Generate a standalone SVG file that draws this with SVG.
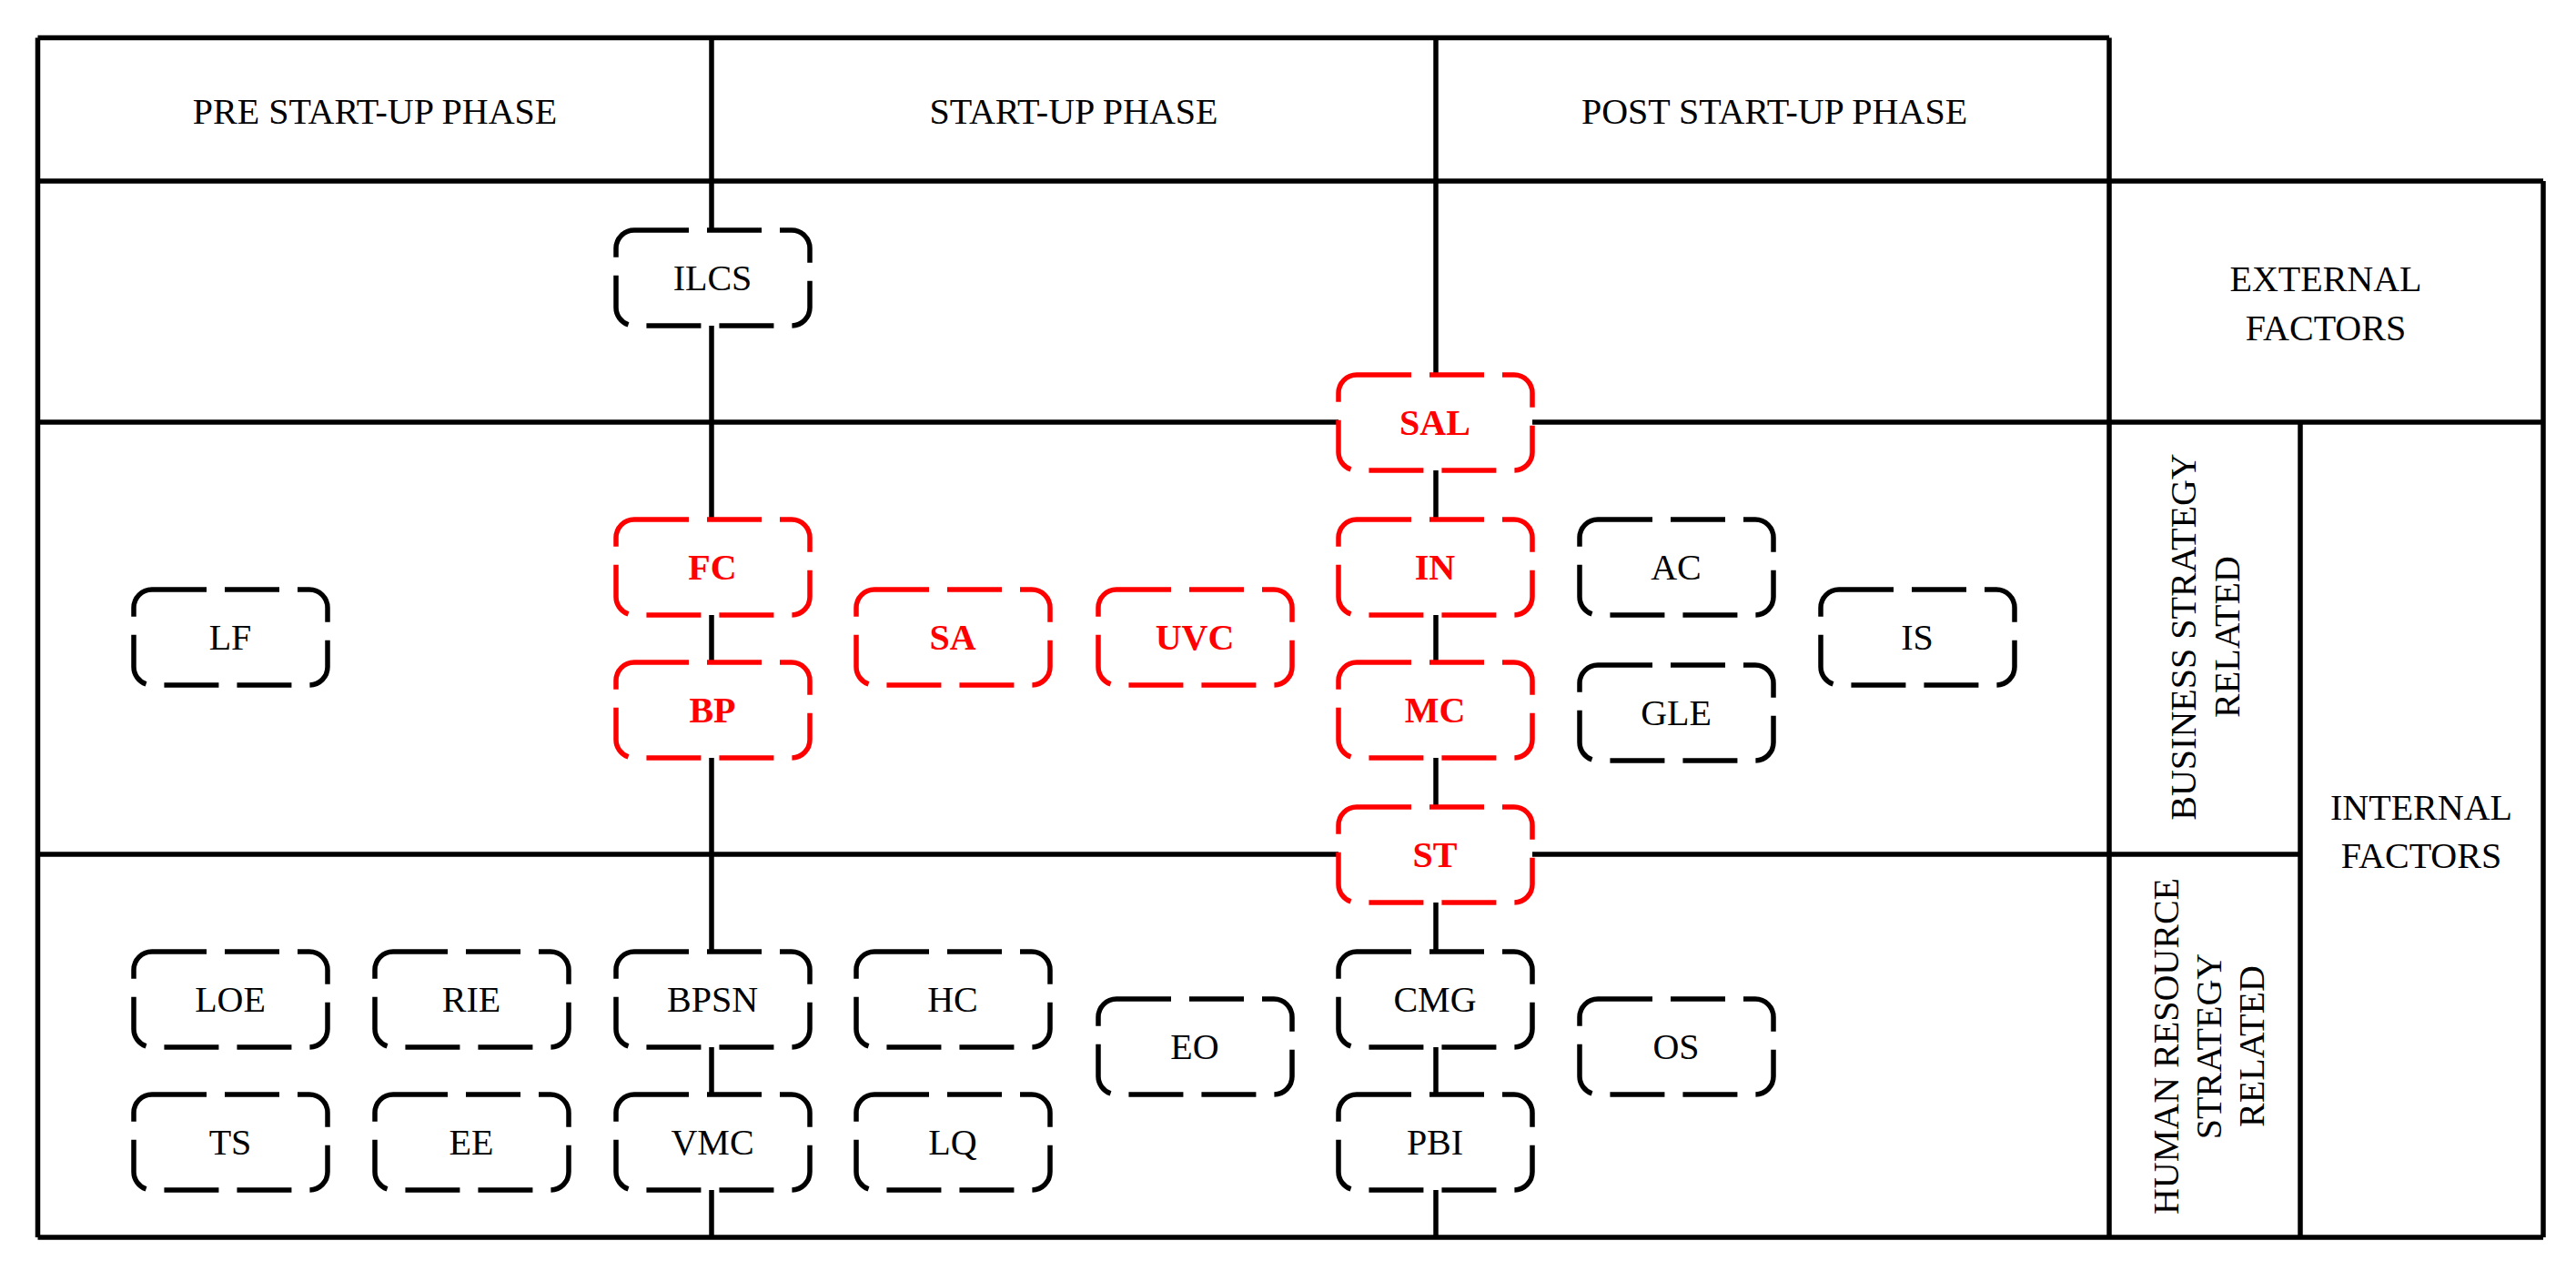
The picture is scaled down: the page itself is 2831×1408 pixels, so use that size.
<svg xmlns="http://www.w3.org/2000/svg" width="2831" height="1408" viewBox="0 0 2831 1408">
<style>
.ln{stroke:#000;stroke-width:5.5;fill:none}
.nd{fill:#fff;stroke:#000;stroke-width:5.5;stroke-dasharray:60 20}
.r .nd{stroke:#f00}
text{font-family:"Liberation Serif","Times New Roman",serif;text-anchor:middle;fill:#000}
.nt{font-size:40px}
.r .nt{fill:#f00;font-weight:bold}
.hd{font-size:40px}
</style>
<rect width="2831" height="1408" fill="#fff"/>
<g id="table" class="ln">
<path d="M41.5 41.5H2318M41.5 199H2795M41.5 464H2795M41.5 939H2528M41.5 1360H2795"/>
<path d="M41.5 41.5V1360M782 41.5V199M1578 41.5V199M2318 41.5V1360M2528 464V1360M2795 199V1360"/>
</g>
<g id="connectors" class="ln">
<path d="M782 199V1360M1578 199V1360"/>
</g>
<g id="labels">
<text class="hd" x="412" y="136">PRE START-UP PHASE</text>
<text class="hd" x="1180" y="136">START-UP PHASE</text>
<text class="hd" x="1950" y="136">POST START-UP PHASE</text>
<text class="hd" x="2556" y="320">EXTERNAL</text>
<text class="hd" x="2556" y="374">FACTORS</text>
<text class="hd" x="2661" y="901">INTERNAL</text>
<text class="hd" x="2661" y="954">FACTORS</text>
<g transform="translate(2423 700) rotate(-90)"><text class="hd" x="0" y="-10">BUSINESS STRATEGY</text><text class="hd" x="0" y="38">RELATED</text></g>
<g transform="translate(2428 1150) rotate(-90)"><text class="hd" x="0" y="-34">HUMAN RESOURCE</text><text class="hd" x="0" y="13">STRATEGY</text><text class="hd" x="0" y="60">RELATED</text></g>
</g>
<defs><rect id="b" x="-106" y="-52" width="213" height="105" rx="20"/></defs>
<g id="ILCS" transform="translate(783 305)"><use href="#b" class="nd"/><text class="nt" y="14">ILCS</text></g>
<g id="SAL" class="r" transform="translate(1577 464)"><use href="#b" class="nd"/><text class="nt" y="14">SAL</text></g>
<g id="FC" class="r" transform="translate(783 623)"><use href="#b" class="nd"/><text class="nt" y="14">FC</text></g>
<g id="BP" class="r" transform="translate(783 780)"><use href="#b" class="nd"/><text class="nt" y="14">BP</text></g>
<g id="IN" class="r" transform="translate(1577 623)"><use href="#b" class="nd"/><text class="nt" y="14">IN</text></g>
<g id="MC" class="r" transform="translate(1577 780)"><use href="#b" class="nd"/><text class="nt" y="14">MC</text></g>
<g id="ST" class="r" transform="translate(1577 939)"><use href="#b" class="nd"/><text class="nt" y="14">ST</text></g>
<g id="SA" class="r" transform="translate(1047 700)"><use href="#b" class="nd"/><text class="nt" y="14">SA</text></g>
<g id="UVC" class="r" transform="translate(1313 700)"><use href="#b" class="nd"/><text class="nt" y="14">UVC</text></g>
<g id="LF" transform="translate(253 700)"><use href="#b" class="nd"/><text class="nt" y="14">LF</text></g>
<g id="AC" transform="translate(1842 623)"><use href="#b" class="nd"/><text class="nt" y="14">AC</text></g>
<g id="GLE" transform="translate(1842 783)"><use href="#b" class="nd"/><text class="nt" y="14">GLE</text></g>
<g id="IS" transform="translate(2107 700)"><use href="#b" class="nd"/><text class="nt" y="14">IS</text></g>
<g id="LOE" transform="translate(253 1098)"><use href="#b" class="nd"/><text class="nt" y="14">LOE</text></g>
<g id="RIE" transform="translate(518 1098)"><use href="#b" class="nd"/><text class="nt" y="14">RIE</text></g>
<g id="BPSN" transform="translate(783 1098)"><use href="#b" class="nd"/><text class="nt" y="14">BPSN</text></g>
<g id="HC" transform="translate(1047 1098)"><use href="#b" class="nd"/><text class="nt" y="14">HC</text></g>
<g id="EO" transform="translate(1313 1150)"><use href="#b" class="nd"/><text class="nt" y="14">EO</text></g>
<g id="CMG" transform="translate(1577 1098)"><use href="#b" class="nd"/><text class="nt" y="14">CMG</text></g>
<g id="OS" transform="translate(1842 1150)"><use href="#b" class="nd"/><text class="nt" y="14">OS</text></g>
<g id="TS" transform="translate(253 1255)"><use href="#b" class="nd"/><text class="nt" y="14">TS</text></g>
<g id="EE" transform="translate(518 1255)"><use href="#b" class="nd"/><text class="nt" y="14">EE</text></g>
<g id="VMC" transform="translate(783 1255)"><use href="#b" class="nd"/><text class="nt" y="14">VMC</text></g>
<g id="LQ" transform="translate(1047 1255)"><use href="#b" class="nd"/><text class="nt" y="14">LQ</text></g>
<g id="PBI" transform="translate(1577 1255)"><use href="#b" class="nd"/><text class="nt" y="14">PBI</text></g>
</svg>
